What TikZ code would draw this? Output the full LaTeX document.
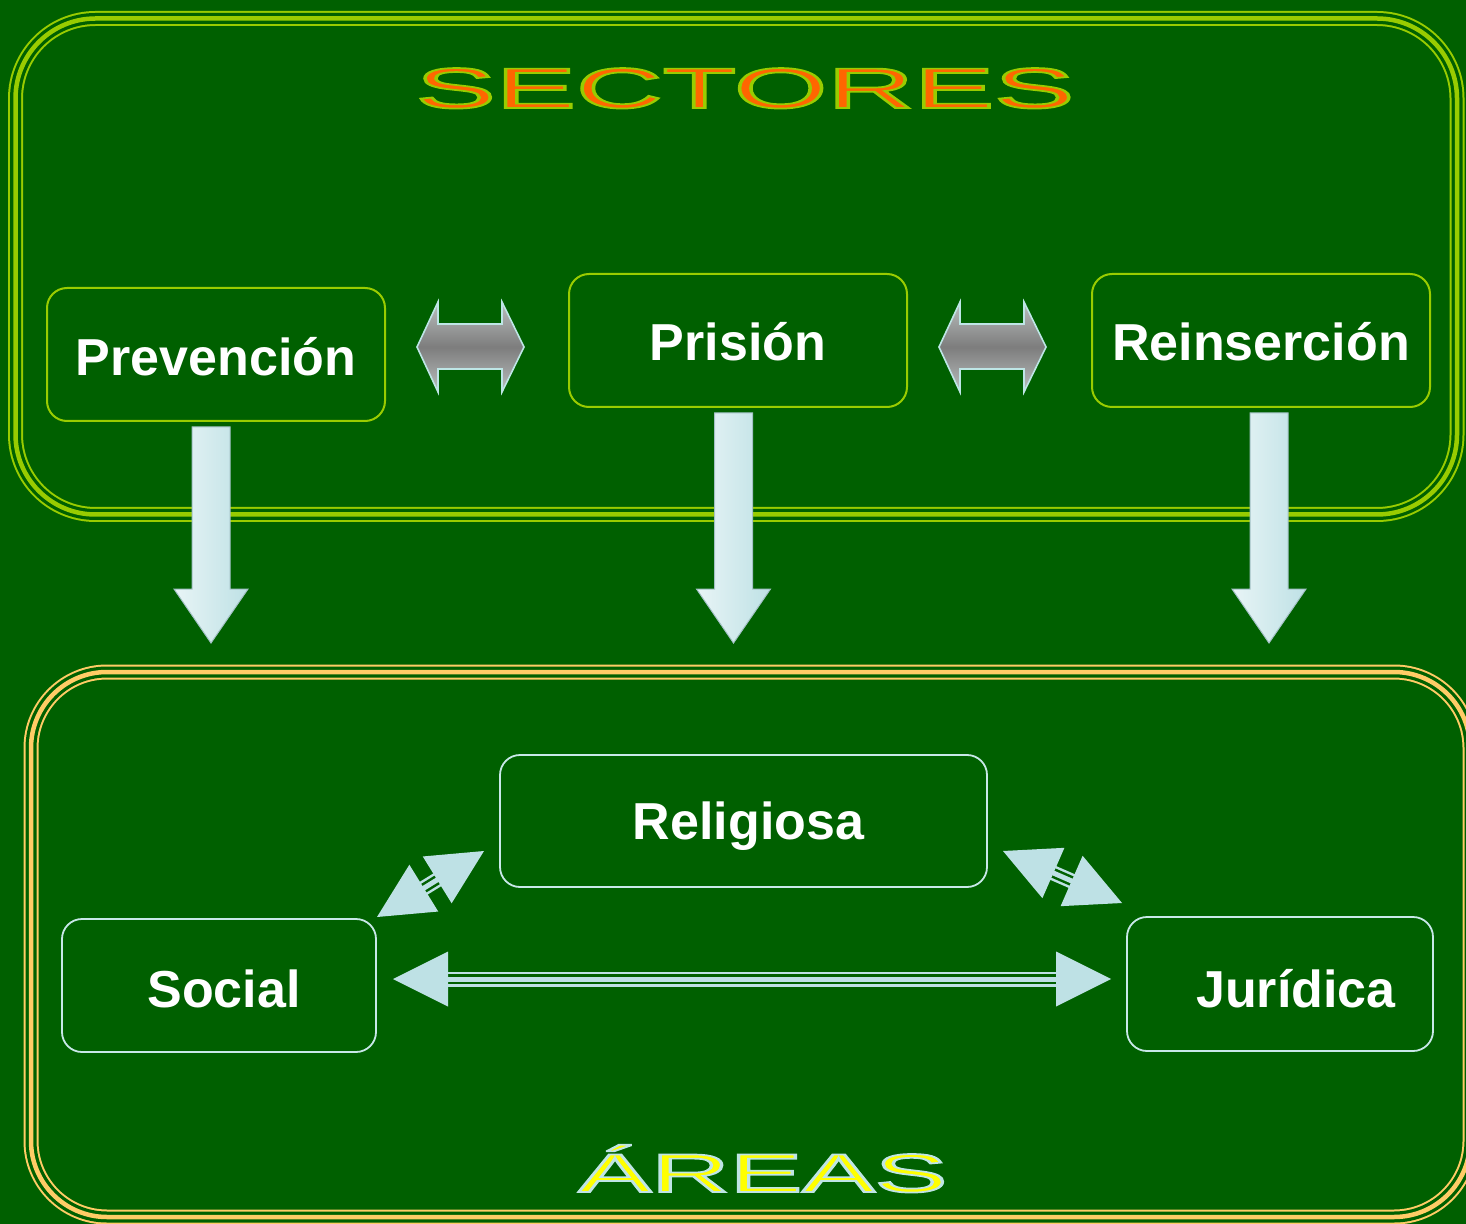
\documentclass[tikz,border=0pt]{standalone}
\usepackage{fontspec}
\usepackage{graphicx}
\setmainfont{Liberation Sans}
\usetikzlibrary{calc}
\definecolor{bg}{RGB}{0,96,0}
\definecolor{limec}{RGB}{153,204,0}
\definecolor{goldc}{RGB}{255,204,102}
\definecolor{arrowc}{RGB}{190,225,229}
\definecolor{boxc}{RGB}{200,232,232}
\definecolor{orangec}{RGB}{255,102,0}
\definecolor{yellowc}{RGB}{255,255,0}
\definecolor{grayA}{RGB}{186,190,190}
\definecolor{grayB}{RGB}{125,125,125}
\definecolor{outlc}{RGB}{190,230,230}
\tikzset{
  topbox/.style={draw=limec, line width=1pt, rounded corners=10pt, text=white,
    font=\bfseries\fontsize{26}{30}\selectfont, inner sep=0pt, text height=24pt},
  botbox/.style={draw=boxc, line width=0.9pt, rounded corners=10pt, text=white,
    font=\bfseries\fontsize{26}{30}\selectfont, inner sep=0pt, text height=24pt},
  grayarrow/.style={top color=grayA, bottom color=grayA, middle color=grayB,
    draw=outlc, line width=0.8pt},
  downarrow/.style={left color=arrowc!35!white, right color=arrowc, draw=arrowc!80!black!70!arrowc, line width=0.5pt},
  shaft/.style={shorten <=26pt, shorten >=26pt},
  titletext/.style={anchor=base, inner sep=0pt},
}
% outlined text: fill + stroke render mode (stroke colour given as r g b)
\newcommand\strokedtext[3]{\special{pdf:literal direct 2 Tr #1 w #2 RG}#3\special{pdf:literal direct 0 Tr}}
\newcommand\dblarr[2]{%
  \draw[arrowc, line width=7.5pt, shaft] (#1) -- (#2);
  \draw[bg, line width=5pt, shaft] (#1) -- (#2);
  \draw[arrowc, line width=2.5pt, shaft] (#1) -- (#2);
  \fill[arrowc] (#1) -- ($(#1)!27.5pt!(#2)!13.75pt!90:(#2)$) -- ($(#1)!27.5pt!(#2)!13.75pt!-90:(#2)$) -- cycle;
  \fill[arrowc] (#2) -- ($(#2)!27.5pt!(#1)!13.75pt!90:(#1)$) -- ($(#2)!27.5pt!(#1)!13.75pt!-90:(#1)$) -- cycle;
}
\newcommand\bigdown[3]{%
  \begin{scope}[shift={(#1,#2)}]
    \path[downarrow] (-19,0) -- (19,0) -- (19,#3-54) -- (37,#3-54) -- (0,#3) -- (-37,#3-54) -- (-19,#3-54) -- cycle;
  \end{scope}
}
\begin{document}
\begin{tikzpicture}[x=0.5pt,y=-0.5pt]
\useasboundingbox (0,0) rectangle (1466,1224);
\fill[bg] (0,0) rectangle (1466,1224);

% frames
\foreach \w/\c in {7.5pt/limec, 5.5pt/bg, 2.25pt/limec}
  \draw[line width=\w, draw=\c, rounded corners=40pt] (15.5,18.5) rectangle (1457,514.5);
\foreach \w/\c in {7.5pt/goldc, 5.5pt/bg, 2.25pt/goldc}
  \draw[line width=\w, draw=\c, rounded corners=38pt] (31,672) rectangle (1470,1217);

% titles
\node[titletext, text=orangec] (sectores) at (745,108)
  {\fontsize{28.6}{32}\selectfont\scalebox{2.1}[1]{\strokedtext{0.85}{0.6 0.8 0}{SECTORES}}};
\node[titletext, text=yellowc] (areas) at (763,1192)
  {\fontsize{27.2}{30}\selectfont\scalebox{2.0}[1]{\strokedtext{0.85}{0.75 0.9 0.9}{ÁREAS}}};

% down arrows (drawn before boxes)
\bigdown{211}{427}{216}
\bigdown{733.5}{413}{230}
\bigdown{1269}{413}{230}

% sector boxes
\node[topbox, minimum width=169pt, minimum height=66.5pt, text depth=3.4pt] (prev) at (216,354.5) {Prevención};
\node[topbox, minimum width=169pt, minimum height=66.5pt, text depth=3.9pt] (pris) at (738,340.5) {Prisión};
\node[topbox, minimum width=169pt, minimum height=66.5pt, text depth=3.9pt] (rein) at (1261,340.5) {Reinserción};

% gray double arrows
\path[grayarrow] (417,347) -- (438,302) -- (438,324) -- (502,324) -- (502,302) -- (524,347)
  -- (502,392) -- (502,369) -- (438,369) -- (438,392) -- cycle;
\begin{scope}[shift={(522,0)}]
\path[grayarrow] (417,347) -- (438,302) -- (438,324) -- (502,324) -- (502,302) -- (524,347)
  -- (502,392) -- (502,369) -- (438,369) -- (438,392) -- cycle;
\end{scope}

% area boxes
\node[botbox, minimum width=243.5pt, minimum height=66pt, text depth=5.4pt] (reli) at (743.5,821) {\hspace*{5pt}Religiosa};
\node[botbox, minimum width=157pt, minimum height=66.5pt, text depth=1.9pt] (soci) at (219,985.5) {\hspace*{5pt}Social};
\node[botbox, minimum width=153pt, minimum height=67pt, text depth=0.4pt] (juri) at (1280,984) {\hspace*{16pt}Jurídica};

% area arrows
\coordinate (a1) at (377,917); \coordinate (b1) at (484,851);
\coordinate (a2) at (1003,851); \coordinate (b2) at (1122,903);
\coordinate (a3) at (393,979); \coordinate (b3) at (1111,979);
\dblarr{a1}{b1}
\dblarr{a2}{b2}
\dblarr{a3}{b3}
\end{tikzpicture}
\end{document}
